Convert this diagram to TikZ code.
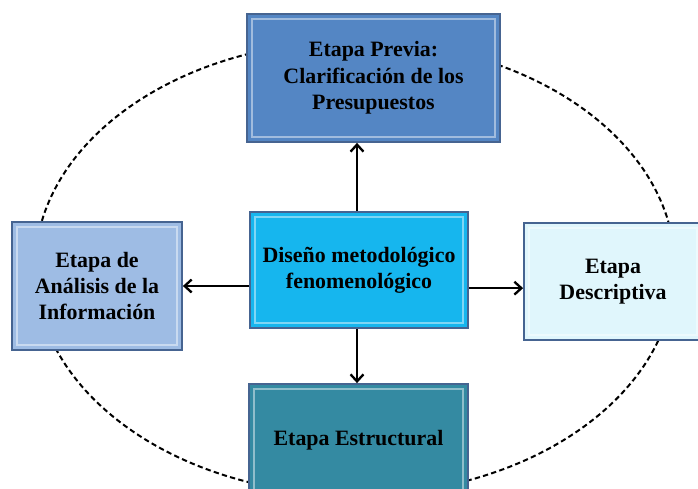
\documentclass[tikz,border=0pt]{standalone}
\usepackage{fontspec}
\setmainfont{Liberation Serif}
\usepackage{tikz}
\usetikzlibrary{arrows.meta}
\definecolor{azulprevia}{RGB}{84,134,196}
\definecolor{azulanalisis}{RGB}{158,188,228}
\definecolor{cyandiseno}{RGB}{22,182,238}
\definecolor{celestedesc}{RGB}{224,246,252}
\definecolor{tealestruct}{RGB}{52,138,162}
\definecolor{bordecaja}{RGB}{70,100,145}
\tikzstyle{etapa}=[rectangle, draw=bordecaja, line width=1.5pt, inner sep=0pt, align=center,
  font=\fontsize{18.7}{22.5}\selectfont\bfseries,
  path picture={\draw[white, opacity=0.45, line width=2pt]
    ([shift={(4pt,4pt)}]path picture bounding box.south west) rectangle
    ([shift={(-4pt,-4pt)}]path picture bounding box.north east);}]
\tikzstyle{flecha}=[line width=2, -{Straight Barb[length=6pt,width=11pt]}]

\begin{document}
\begin{tikzpicture}[baseline,scale=1]
            \useasboundingbox (0,0) rectangle (20.94,14.64);
            % Elipse
            \draw[line width=1.7, dash pattern=on 4.5pt off 2.8pt] (10.65,6.60) ellipse (9.6 and 6.81);
            % Cajas
            \node[etapa, fill=azulprevia, minimum width=7.59cm, minimum height=3.84cm] (previa) at (11.205,12.30) {Etapa Previa:\\Clarificación de los\\Presupuestos};
            \node[etapa, fill=azulanalisis, minimum width=5.10cm, minimum height=3.84cm] (analisis) at (2.91,6.06) {Etapa de\\Análisis de la\\Información};
            \node[etapa, fill=cyandiseno, minimum width=6.54cm, minimum height=3.48cm] (diseno) at (10.77,6.54) {Diseño metodológico\\fenomenológico};
            \node[etapa, fill=celestedesc, minimum width=5.34cm, minimum height=3.51cm] (descriptiva) at (18.39,6.195) {Etapa\\Descriptiva};
            \node[etapa, fill=tealestruct, minimum width=6.57cm, minimum height=3.36cm] (estructural) at (10.755,1.44) {Etapa Estructural};
            % Flechas
            \draw[flecha] ([xshift=-0.06cm]diseno.north) -- ([xshift=-0.06cm]diseno.north |- previa.south);
            \draw[flecha] (diseno.west |- analisis.east) -- (analisis.east);
            \draw[flecha] ([yshift=-0.2cm]diseno.east |- descriptiva.west) -- ([yshift=-0.2cm]descriptiva.west);
            \draw[flecha] ([xshift=-0.06cm]diseno.south) -- ([xshift=-0.06cm]diseno.south |- estructural.north);
        \end{tikzpicture}
\end{document}
